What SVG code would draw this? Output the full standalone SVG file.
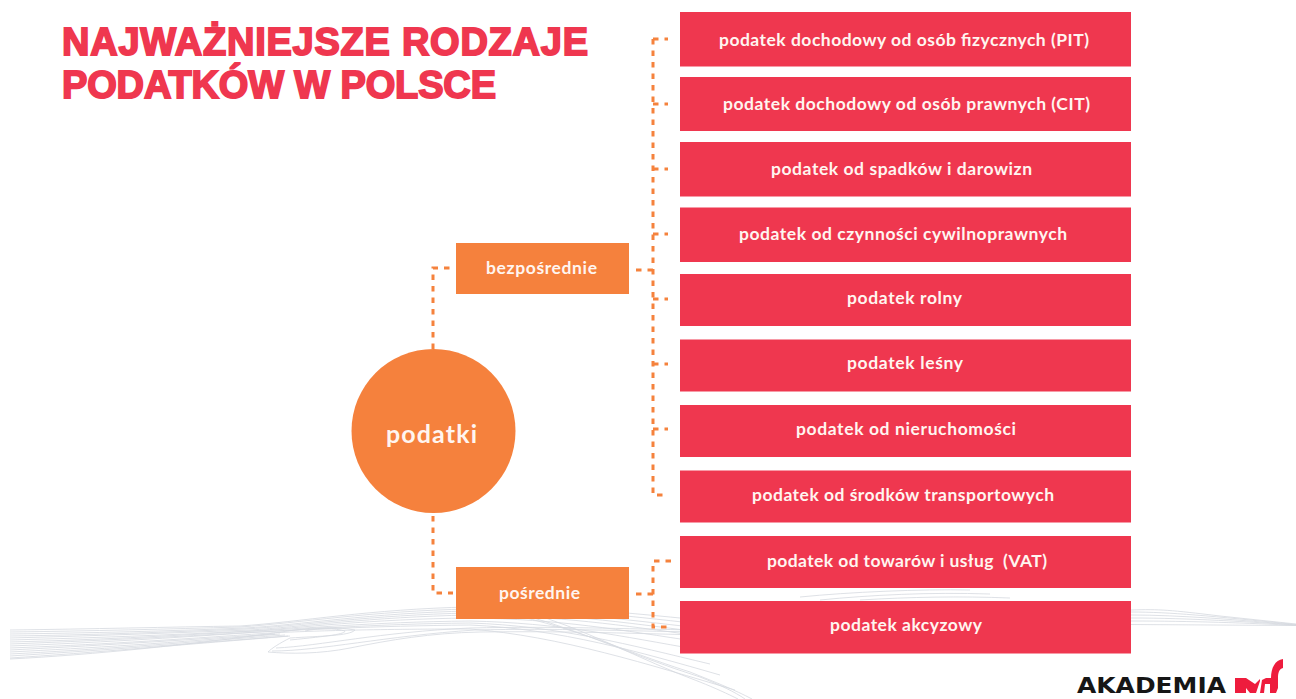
<svg xmlns="http://www.w3.org/2000/svg" width="1296" height="699" viewBox="0 0 1296 699">
<style>
.r{fill:#EF374F}
.o{fill:#F5813D}
.t{font-family:"Lato","Liberation Sans",sans-serif;font-weight:700;font-size:17.500px;fill:#FFF5F0;text-anchor:middle}
.h{font-family:"Liberation Sans",Arial,sans-serif;font-weight:700;font-size:38px;fill:#EF374F;stroke:#EF374F;stroke-width:1.800px}
.c{fill:none;stroke:#F5823D;stroke-width:3;stroke-dasharray:5.500 6}
.w{fill:none;stroke:#D6D9DF;stroke-width:.8}
</style>
<rect width="1296" height="699" fill="#FFFFFF"/>
<g id="background-wave">
<path class="w" d="M10 630C90 629 170 627 240 626C300 622 370 609 470 607C560 606 620 612 700 620"/>
<path class="w" d="M10 632C90 631 170 629 240 627C300 623 370 611 470 609C560 608 620 615 700 624"/>
<path class="w" d="M10 634C90 633 170 631 245 628C300 625 370 613 470 611C560 611 620 619 700 628"/>
<path class="w" d="M10 636C90 635 170 632 245 629C300 626 370 615 470 613C560 613 620 622 700 632"/>
<path class="w" d="M10 638C90 636 170 633 250 630C300 627 370 617 470 615C560 616 620 625 700 636"/>
<path class="w" d="M10 640C90 638 170 635 250 631C300 628 370 619 470 618C560 619 620 630 700 642"/>
<path class="w" d="M10 642C90 640 170 636 255 631C300 629 370 622 470 621C560 623 620 636 700 650"/>
<path class="w" d="M10 644C90 641 170 637 258 632C300 630 370 624 470 623C560 626 630 645 710 664"/>
<path class="w" d="M10 646C90 643 170 638 260 632C300 630 370 626 470 625C560 629 640 652 720 675"/>
<path class="w" d="M10 648C90 645 170 640 270 633C310 631 370 629 470 629C560 636 650 665 735 690"/>
<path class="w" d="M10 650C90 646 170 641 275 634"/>
<path class="w" d="M10 652C90 648 170 643 280 634"/>
<path class="w" d="M10 654C90 650 180 643 285 635"/>
<path class="w" d="M10 656C90 651 185 644 288 636"/>
<path class="w" d="M10 658C90 653 190 644 290 636"/>
<path class="w" d="M10 659C90 655 200 644 295 630C315 627 340 627 355 630C350 636 320 636 290 638C280 643 272 648 268 652C290 654 320 654 350 648C390 640 430 633 480 632C560 631 620 633 700 635"/>
<path class="w" d="M290 640C330 636 345 634 345 631C335 628 318 628 305 631"/>
<path class="w" d="M276 648C320 646 380 632 470 628C560 626 620 629 700 630"/>
<path class="w" d="M272 651C320 651 385 636 475 630C560 628 620 631 700 632"/>
<path class="w" d="M470 607C560 620 620 650 690 672C715 682 735 690 752 699"/>
<path class="w" d="M500 609C570 625 630 655 700 677C720 685 735 692 745 699"/>
<path class="w" d="M520 610C585 628 640 660 700 682C715 688 728 694 738 699"/>
<path class="w" d="M800 597C850 592 920 589 970 590"/>
<path class="w" d="M820 600C870 595 930 592 990 594"/>
<path class="w" d="M860 600C910 597 960 596 1010 598"/>
<path class="w" d="M1131 610C1160 609 1170 610 1220 616L1296 624"/>
<path class="w" d="M1131 612C1170 612 1210 616 1296 624.500"/>
<path class="w" d="M1131 615C1180 615 1240 620 1296 625"/>
<path class="w" d="M1131 618C1190 618 1250 622 1296 625"/>
<path class="w" d="M1131 621C1190 621 1250 623 1296 625.500"/>
<path class="w" d="M1131 624.500L1296 625.500"/>
</g>
<g id="connectors">
<path class="c" d="M433 349V268H453"/>
<path class="c" d="M433 516V593H453"/>
<path class="c" d="M636 270H653"/>
<path class="c" d="M653 39V495H668"/>
<path class="c" d="M653 39H668M653 104H668M653 169H668M653 234H668M653 299H668M653 364H668M653 429H668"/>
<path class="c" d="M636 594H653"/>
<path class="c" d="M671 561H653V627H671"/>
</g>
<g id="title">
<text class="h" x="62" y="55" textLength="526" lengthAdjust="spacing">NAJWAŻNIEJSZE RODZAJE</text>
<text class="h" x="62" y="98" textLength="434" lengthAdjust="spacing">PODATKÓW W POLSCE</text>
</g>
<g id="node-podatki"><circle class="o" cx="433.500" cy="431" r="82"/><text class="t" style="font-size:25px" x="431.500" y="443" textLength="91" lengthAdjust="spacing">podatki</text></g>
<g id="node-bezposrednie"><rect class="o" x="456" y="243" width="173" height="51"/><text class="t" x="541.500" y="274" textLength="111" lengthAdjust="spacing">bezpośrednie</text></g>
<g id="node-posrednie"><rect class="o" x="456" y="567" width="173" height="52"/><text class="t" x="539.500" y="599" textLength="81" lengthAdjust="spacing">pośrednie</text></g>
<g id="node-pit"><rect class="r" x="680" y="12" width="451" height="54.500"/><text class="t" x="904" y="46" textLength="370" lengthAdjust="spacing">podatek dochodowy od osób fizycznych (PIT)</text></g>
<g id="node-cit"><rect class="r" x="680" y="77" width="451" height="54"/><text class="t" x="906.500" y="110" textLength="367" lengthAdjust="spacing">podatek dochodowy od osób prawnych (CIT)</text></g>
<g id="node-spadki"><rect class="r" x="680" y="142" width="451" height="54.500"/><text class="t" x="901.500" y="175" textLength="261" lengthAdjust="spacing">podatek od spadków i darowizn</text></g>
<g id="node-czynnosci"><rect class="r" x="680" y="207.500" width="451" height="54.500"/><text class="t" x="903" y="240" textLength="328" lengthAdjust="spacing">podatek od czynności cywilnoprawnych</text></g>
<g id="node-rolny"><rect class="r" x="680" y="274" width="451" height="52"/><text class="t" x="904.500" y="304" textLength="115" lengthAdjust="spacing">podatek rolny</text></g>
<g id="node-lesny"><rect class="r" x="680" y="339.500" width="451" height="52"/><text class="t" x="905" y="369" textLength="116" lengthAdjust="spacing">podatek leśny</text></g>
<g id="node-nieruchomosci"><rect class="r" x="680" y="405" width="451" height="52"/><text class="t" x="906" y="435" textLength="220" lengthAdjust="spacing">podatek od nieruchomości</text></g>
<g id="node-transport"><rect class="r" x="680" y="470.500" width="451" height="52"/><text class="t" x="903" y="501" textLength="302" lengthAdjust="spacing">podatek od środków transportowych</text></g>
<g id="node-vat"><rect class="r" x="680" y="536" width="451" height="52"/><text class="t" x="907" y="567" xml:space="preserve" textLength="280" lengthAdjust="spacing">podatek od towarów i usług  (VAT)</text></g>
<g id="node-akcyza"><rect class="r" x="680" y="601" width="451" height="52.500"/><text class="t" x="906" y="631" textLength="152" lengthAdjust="spacing">podatek akcyzowy</text></g>
<g id="logo">
<text x="1077" y="693" textLength="149" lengthAdjust="spacingAndGlyphs" style="font-family:'DejaVu Sans',sans-serif;font-weight:700;font-size:21px;fill:#161616">AKADEMIA</text>
<path fill="#EE1C3D" d="M1235 678H1246L1255 684L1260 679V681L1256 693H1250L1246 688V693H1235Z"/>
<path fill="#EE1C3D" d="M1260 693L1262 680L1266 678H1271C1271 668 1275 660 1283 659V668C1279 669 1278 673 1278 678V688L1276 693H1270V684H1265L1264 693Z"/>
</g>
</svg>
